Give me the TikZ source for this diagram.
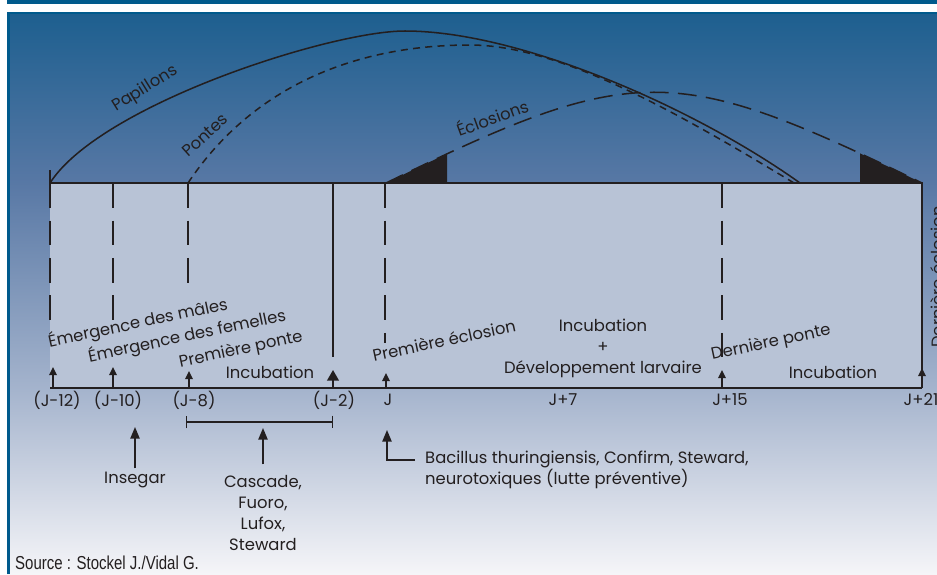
\documentclass[tikz,border=0pt]{standalone}
\usepackage{fontspec}
\setmainfont{Poppins}
\newfontfamily\srcfont[FakeStretch=0.8]{Liberation Sans}
\usepackage{tikz}
\usetikzlibrary{arrows.meta}
\definecolor{ink}{HTML}{231F20}
\definecolor{frame}{HTML}{005A8C}
\definecolor{panel}{HTML}{B8C3D6}
\definecolor{skytop}{HTML}{1D5F8F}
\definecolor{skymid}{HTML}{5878A5}
\definecolor{skylow}{HTML}{A5B4CD}
\definecolor{skyend}{HTML}{F5F5F8}

\tikzset{
  lab/.style={font=\fontsize{14}{18}\selectfont, text=ink, inner sep=0pt},
  curvelab/.style={font=\fontsize{14}{17}\selectfont, text=ink, inner sep=0pt},
  edge/.style={ink, line width=1.5pt},
  phase/.style={ink, line width=1.3pt},
  dayarrow/.style={ink, line width=1.3pt, -{Triangle[length=7pt,width=6.5pt]}},
  treat/.style={ink, line width=1.3pt, -{Triangle[length=10pt,width=8pt]}},
}

\begin{document}
\begin{tikzpicture}[x=0.03cm, y=-0.03cm]
    \useasboundingbox (0,0) rectangle (937,574);

    % Background and frame
    \fill[white] (0,0) rectangle (937,574);
    \fill[frame] (7,0) rectangle (937,3.5);
    \fill[top color=skytop, bottom color=skymid] (7,12) rectangle (937,183.5);
    \fill[top color=skymid, bottom color=skylow] (7,183) rectangle (937,390.5);
    \fill[top color=skylow, bottom color=skyend] (7,390) rectangle (937,574);
    \fill[frame] (7,12) rectangle (937,13.5);
    \fill[frame] (7,12) rectangle (10,574);

    % Panel
    \fill[panel] (50,183) rectangle (922,388);
    \draw[edge] (50,183) -- (922,183) -- (922,388);
    \draw[edge] (50,388) -- (922,388);
    \draw[edge] (50,170) -- (50,183);
    \foreach \x/\yend in {50/330, 113/322, 188/287, 385/343, 722/357}
        \draw[edge, dash pattern=on 21pt off 11pt] (\x,183) -- (\x,\yend);
    \draw[edge] (333,183) -- (333,357);

    % Curves above the panel
    \draw[phase] (50,183) .. controls (100,105) and (330,31) .. (405,31)
        .. controls (520,31) and (695,108) .. (800,183);
    \draw[phase, dash pattern=on 6pt off 4.5pt] (188,183) .. controls (250,90) and (350,45) .. (470,45)
        .. controls (560,45) and (680,114) .. (794,183);
    \draw[phase, dash pattern=on 16pt off 8pt] (386,183) .. controls (634,62) and (674,62) .. (922,183);
    \begin{scope}
        \clip (386,140) rectangle (447,183);
        \fill[ink] (386,183) .. controls (634,62) and (674,62) .. (922,183) -- cycle;
    \end{scope}
    \begin{scope}
        \clip (860,140) rectangle (922,183);
        \fill[ink] (386,183) .. controls (634,62) and (674,62) .. (922,183) -- cycle;
    \end{scope}

    \node[curvelab, rotate=32] (papillons) at (145,89) {Papillons};
    \node[curvelab, rotate=42] (pontes) at (205,135) {Pontes};
    \node[curvelab, rotate=20] (eclosions) at (492,117) {Éclosions};

    % Day arrows and labels
    \foreach \x/\ytip [count=\i] in {53/367, 113/367, 189/371, 386/373, 722/370, 922/368}{
        \coordinate (d\i) at (\x,388);
        \coordinate (dt\i) at (\x,\ytip);
        \draw[dayarrow] (d\i) -- (dt\i);
    }
    \coordinate (dmin2) at (333,388);
    \coordinate (dmin2tip) at (333,370);
    \draw[ink, line width=1.3pt, -{Triangle[length=9pt,width=10pt]}] (dmin2) -- (dmin2tip);
    \foreach \x/\txt [count=\i] in {57/{(J-12)}, 118/{(J-10)}, 194/{(J-8)}, 334/{(J-2)}, 388/J, 563/J+7, 730/J+15, 921/J+21}
        \node[lab] (day\i) at (\x,400) {\txt};

    % Events in the panel
    \node[lab, rotate=12] (males) at (138,323) {Émergence des mâles};
    \node[lab, rotate=12] (femelles) at (187,336) {Émergence des femelles};
    \node[lab, rotate=12] (ponte1) at (241,350) {Première ponte};
    \node[lab] (incub1) at (270,372) {Incubation};
    \node[lab, rotate=12] (eclo1) at (444,340) {Première éclosion};
    \node[lab, align=center] (devel) at (603,348) {Incubation\\+\\Développement larvaire};
    \node[lab, rotate=12] (pontelast) at (771,343) {Dernière ponte};
    \node[lab] (incub2) at (833,372) {Incubation};
    \node[lab, rotate=90] (eclolast) at (937.5,277) {Dernière éclosion};

    % Treatments
    \draw[ink, line width=1.2pt, {Bar[width=11pt]}-{Bar[width=11pt]}] (186,422) -- (333,422);
    \node[lab] (insegar) at (135,480) {Insegar};
    \coordinate (insegartip) at (135,427);
    \draw[treat, shorten <=3pt] (insegar.north) -- (insegartip);
    \node[lab, align=center] (cascade) at (263,513) {Cascade,\\Fuoro,\\Lufox,\\Steward};
    \coordinate (cascadetip) at (263,428);
    \draw[treat, shorten <=9pt] (cascade.north) -- (cascadetip);
    \node[lab, align=left, anchor=west] (bacillus) at (425,470)
        {Bacillus thuringiensis, Confirm, Steward,\\neurotoxiques (lutte préventive)};
    \coordinate (bacl) at (415,460);
    \coordinate (bactip) at (387,430);
    \draw[treat] (bacl) -| (bactip);

    % Source
    \node[font=\srcfont\fontsize{16}{18}\selectfont, text=ink, inner sep=0pt, anchor=west] (source) at (15,563)
        {Source : Stockel J./Vidal G.};
\end{tikzpicture}
\end{document}
